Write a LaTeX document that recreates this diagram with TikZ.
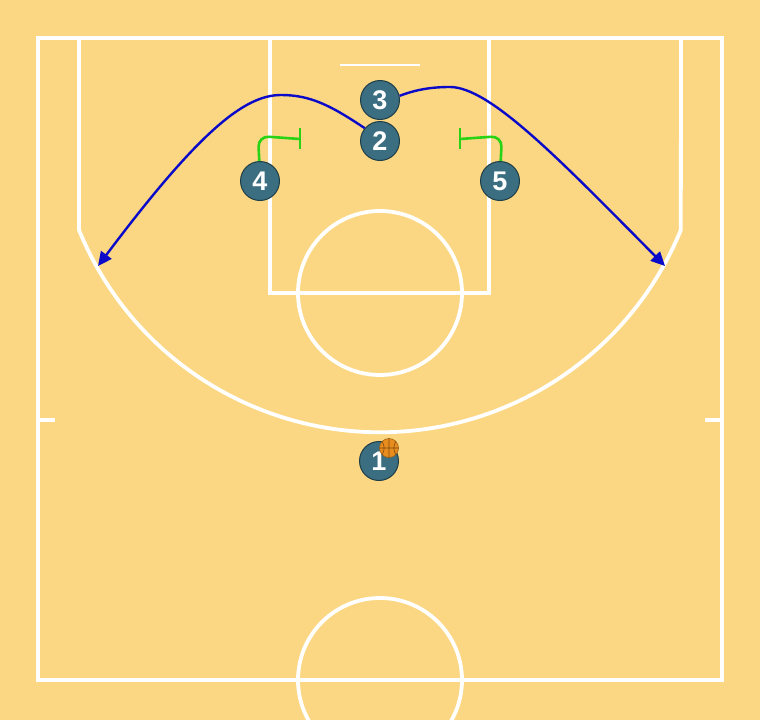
\documentclass[tikz,border=0pt]{standalone}
\usepackage{fontspec}
\setmainfont{Liberation Sans}
\usetikzlibrary{arrows.meta}
\definecolor{floor}{RGB}{251,215,132}
\definecolor{player}{RGB}{58,110,128}
\definecolor{playerline}{RGB}{32,62,72}
\definecolor{cut}{RGB}{10,10,200}
\definecolor{screen}{RGB}{40,210,20}
\definecolor{ball}{RGB}{232,140,30}

\begin{document}
\begin{tikzpicture}[x=1pt,y=-1pt,>={Triangle[length=14pt,width=13pt]}]
\tikzset{
  court/.style={white,line width=3.8pt},
  man/.style={circle,fill=player,draw=playerline,line width=1pt,minimum size=39pt,inner sep=0pt,
    text=white,font=\fontsize{27}{27}\selectfont\bfseries},
  cutline/.style={cut,line width=2.4pt,->},
  screenline/.style={screen,line width=2.6pt}
}
\fill [floor] (0,0) rectangle (760,720);
\useasboundingbox (0,0) rectangle (760,720);
\begin{scope}
\clip (0,0) rectangle (760,720);
% court
\draw [court] (38,38) rectangle (722,680);
\draw [court] (270,38) rectangle (489,293);
\draw [court] (380,293) circle (82);
\draw [court] (380,680) circle (82);
\draw [white,line width=1.8pt] (340,65) -- (420,65);
\draw [court] (79,38) -- (79,230) arc [start angle=157.8, end angle=22.2, radius=325] -- (681,38);
\draw [court] (38,420) -- (55,420) (705,420) -- (722,420);
\end{scope}

\node [man] (p3) at (380,100) {3};
\node [man] (p2) at (380,141) {2};
\node [man] (p4) at (260,181) {4};
\node [man] (p5) at (500,181) {5};
\node [man] (p1) at (379,461) {1};

% ball
\node [circle,fill=ball,draw=ball!70!black,line width=0.6pt,minimum size=19pt,inner sep=0pt] (b) at (389,448) {};
\draw [ball!55!black,line width=0.6pt] (b.north) -- (b.south) (b.west) -- (b.east)
  (b.north west) to[bend left=30] (b.south west) (b.north east) to[bend right=30] (b.south east);

\coordinate (e2) at (98,266);
\coordinate (e3) at (665,266);
\draw [cutline] (p2.140) .. controls (330,105) and (310,95) .. (281,95)
  .. controls (245,95) and (200,130) .. (e2);
\draw [cutline] (p3.12) .. controls (415,90) and (430,87) .. (450,87)
  .. controls (490,87) and (560,160) .. (e3);

% screens
\coordinate (s4) at (300,139);
\coordinate (s5) at (460,139);
\draw [screenline,rounded corners=11pt] (p4.92) -- (258,136) -- (s4);
\draw [screenline] ([yshift=-10pt]s4) -- ([yshift=11pt]s4);
\draw [screenline,rounded corners=11pt] (p5.88) -- (502,136) -- (s5);
\draw [screenline] ([yshift=-10pt]s5) -- ([yshift=11pt]s5);
\end{tikzpicture}
\end{document}
